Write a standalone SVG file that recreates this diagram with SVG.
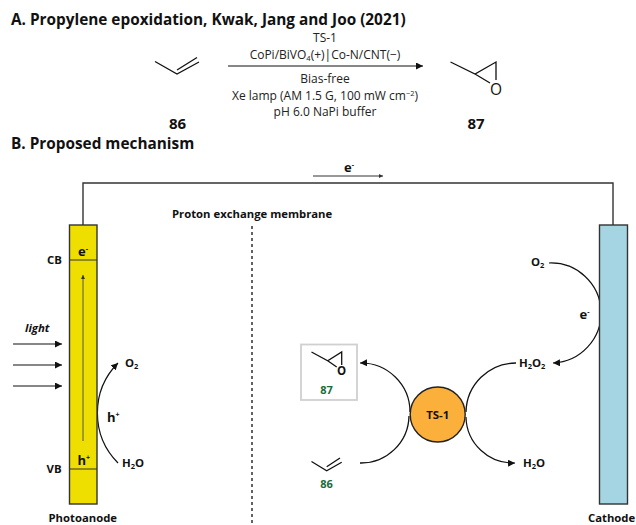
<svg xmlns="http://www.w3.org/2000/svg" width="636" height="525" viewBox="0 0 636 525">
<style>
text{font-family:"Open Sans","Noto Sans","Liberation Sans",sans-serif;fill:#111}
.h{font-size:15.35px;font-weight:700}
.n{font-size:12px;font-weight:400;text-anchor:middle;fill:#222}
.l{font-size:11.4px;font-weight:700}
.q{font-size:13px;font-weight:700}
.p{font-size:11.3px;font-weight:700}
.c{font-size:15px;font-weight:700;text-anchor:middle}
.g{font-size:11px;font-weight:700;text-anchor:middle;fill:#1a6b3c}
.s{fill:none;stroke:#111;stroke-width:1.3}
.w{fill:none;stroke:#333;stroke-width:1.4}
.a{fill:none;stroke:#111;stroke-width:1.2;marker-end:url(#ah)}
</style>
<defs>
<marker id="ah" markerWidth="8" markerHeight="8" refX="7" refY="3.500" orient="auto" markerUnits="userSpaceOnUse"><path d="M0 0L7 3.500L0 7z" fill="#111"/></marker>
<marker id="ahs" markerWidth="5" markerHeight="5" refX="4" refY="2" orient="auto" markerUnits="userSpaceOnUse"><path d="M0 0L4 2L0 4z" fill="#333"/></marker>
</defs>
<rect width="636" height="525" fill="#fff"/>
<g id="section-a">
<text class="h" x="11" y="24.500">A. Propylene epoxidation, Kwak, Jang and Joo (2021)</text>
<text class="h" x="11" y="149">B. Proposed mechanism</text>
<path class="s" d="M155 61.500L177 74L199 62M177 70L197 57.500"/>
<text class="c" x="177.500" y="129">86</text>
<path class="s" d="M450.500 62L475 74L496 62V80M475 74L490 83"/>
<text x="496" y="94.500" font-size="15.500" text-anchor="middle">O</text>
<text class="c" x="476" y="129">87</text>
<path class="a" d="M228 66H423"/>
<text class="n" x="325" y="42">TS-1</text>
<text class="n" x="325" y="59">CoPi/BiVO<tspan font-size="7.500" dy="2">4</tspan><tspan dy="-2">(+)|Co-N/CNT(−)</tspan></text>
<text class="n" x="325" y="83">Bias-free</text>
<text class="n" x="325" y="100">Xe lamp (AM 1.5 G, 100 mW cm<tspan font-size="7.500" dy="-4">−2</tspan><tspan dy="4">)</tspan></text>
<text class="n" x="325" y="116">pH 6.0 NaPi buffer</text>
</g>
<g id="connectors">
<path class="w" d="M83 225V183H613V225"/>
<path d="M313 176H383" fill="none" stroke="#333" stroke-width="1" marker-end="url(#ahs)"/>
<path d="M252 226V525" fill="none" stroke="#222" stroke-width="1.4" stroke-dasharray="3 3"/>
<path class="a" d="M13 344H62"/>
<path class="a" d="M13 365H62"/>
<path class="a" d="M13 386H62"/>
<path class="a" d="M118 463A71 71 0 0 1 118 363"/>
<path class="a" d="M549 263A50 50 0 0 1 553 363"/>
<path class="a" d="M410 412A49 49 0 0 0 360 363"/>
<path class="s" d="M360 463A48 48 0 0 0 409 416"/>
<path class="s" d="M516 363A50 50 0 0 0 466 412"/>
<path class="a" d="M466 417A47 47 0 0 0 515 463"/>
</g>
<g id="photoanode">
<rect x="69.500" y="225" width="27.500" height="279" fill="#eedf00" stroke="#333" stroke-width="1.400"/>
<path d="M70 260H97M70 469H97" stroke="#333" stroke-width="1.200"/>
<path d="M83 441V275" fill="none" stroke="#555" stroke-width="1" marker-end="url(#ahs)"/>
<text class="q" x="78" y="256">e<tspan font-size="7" dy="-5">-</tspan></text>
<text class="q" x="77.500" y="465">h<tspan font-size="7" dy="-5">+</tspan></text>
<text class="l" x="47" y="264">CB</text>
<text class="l" x="46.500" y="473">VB</text>
<text class="l" x="25" y="332" font-style="italic">light</text>
<text class="p" x="48.500" y="522">Photoanode</text>
<text class="l" x="125" y="367">O<tspan font-size="7.500" dy="2">2</tspan></text>
<text class="q" x="107" y="422">h<tspan font-size="7" dy="-5">+</tspan></text>
<text class="l" x="122" y="467">H<tspan font-size="7.500" dy="2">2</tspan><tspan dy="-2">O</tspan></text>
</g>
<g id="membrane">
<text class="p" x="172" y="218">Proton exchange membrane</text>
</g>
<g id="cathode">
<rect x="599.500" y="225" width="28" height="279" fill="#a5d5e3" stroke="#333" stroke-width="1.400"/>
<text class="p" x="588" y="522">Cathode</text>
<text class="l" x="531" y="266">O<tspan font-size="7.500" dy="2">2</tspan></text>
<text class="q" x="579.500" y="319">e<tspan font-size="7" dy="-5">-</tspan></text>
<text class="l" x="519" y="367">H<tspan font-size="7.500" dy="2">2</tspan><tspan dy="-2">O</tspan><tspan font-size="7.500" dy="2">2</tspan></text>
<text class="l" x="523" y="467">H<tspan font-size="7.500" dy="2">2</tspan><tspan dy="-2">O</tspan></text>
</g>
<g id="electron-label">
<text class="q" x="344" y="172">e<tspan font-size="7" dy="-5">-</tspan></text>
</g>
<g id="ts1">
<circle cx="437.700" cy="414.500" r="27.500" fill="#fbb03b" stroke="#222" stroke-width="1.400"/>
<text class="l" x="437.700" y="418.500" text-anchor="middle">TS-1</text>
</g>
<g id="product-87">
<rect x="301" y="344.500" width="56" height="55.500" fill="#fff" stroke="#d0d0d0" stroke-width="1.800"/>
<path class="s" d="M311.500 352L327.700 360.700L341.700 352V365M327.700 360.700L336.700 367"/>
<text x="341.700" y="374.500" font-size="11.500" font-weight="700" text-anchor="middle">O</text>
<text class="g" x="326.500" y="394">87</text>
</g>
<g id="reactant-86">
<path class="s" d="M311.500 461.500L326.700 470.700L341.700 462.300M326.700 466.700L340 458"/>
<text class="g" x="326.500" y="488">86</text>
</g>
</svg>
